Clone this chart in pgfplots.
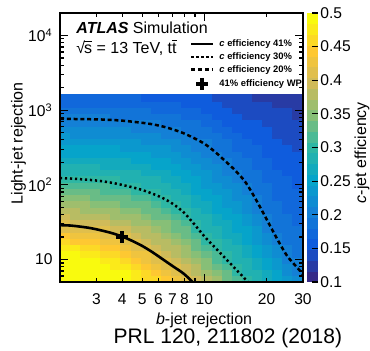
\documentclass[border=0pt]{standalone}
\usepackage{fontspec}
\setmainfont{Liberation Sans}
\usepackage{pgfplots}
\pgfplotsset{compat=1.18}

% ROOT "kBird" palette, sampled into discrete steps
\pgfplotsset{
  colormap={bird}{rgb=(0.2082,0.1664,0.5293) rgb=(0.0592,0.3599,0.8684)
    rgb=(0.0780,0.5041,0.8385) rgb=(0.0232,0.6419,0.7914) rgb=(0.1802,0.7178,0.6425)
    rgb=(0.5301,0.7492,0.4662) rgb=(0.8186,0.7328,0.3499) rgb=(0.9956,0.7862,0.1968)
    rgb=(0.9764,0.9832,0.0539)},
  colormap={birdsteps}{samples of colormap=(25 of bird)},
  cross legend/.style={legend image code/.code={\draw[##1] plot coordinates {(5.5pt,0pt)}; \path (0pt,0pt) (11pt,0pt);}},
}

% c-jet efficiency on a (b-rejection, light-rejection) grid; cell corners, the
% value of a cell sits at its lower-left corner
\pgfplotstableread{
x y c
2 5 0.5
2.24 5 0.5
2.51 5 0.5
2.81 5 0.5
3.14 5 0.5
3.52 5 0.5
3.94 5 0.497
4.41 5 0.481
4.93 5 0.466
5.52 5 0.452
6.18 5 0.439
6.92 5 0.426
7.74 5 0.414
8.67 5 0.397
9.70 5 0.378
10.9 5 0.358
12.2 5 0.337
13.6 5 0.316
15.2 5 0.297
17.1 5 0.285
19.1 5 0.271
21.4 5 0.254
23.9 5 0.234
26.8 5 0.217
30 5 0.217
2 6.06 0.5
2.24 6.06 0.5
2.51 6.06 0.5
2.81 6.06 0.5
3.14 6.06 0.5
3.52 6.06 0.498
3.94 6.06 0.484
4.41 6.06 0.469
4.93 6.06 0.455
5.52 6.06 0.441
6.18 6.06 0.428
6.92 6.06 0.416
7.74 6.06 0.403
8.67 6.06 0.385
9.70 6.06 0.366
10.9 6.06 0.346
12.2 6.06 0.325
13.6 6.06 0.304
15.2 6.06 0.291
17.1 6.06 0.278
19.1 6.06 0.263
21.4 6.06 0.246
23.9 6.06 0.225
26.8 6.06 0.208
30 6.06 0.208
2 7.35 0.5
2.24 7.35 0.5
2.51 7.35 0.5
2.81 7.35 0.5
3.14 7.35 0.495
3.52 7.35 0.483
3.94 7.35 0.471
4.41 7.35 0.456
4.93 7.35 0.443
5.52 7.35 0.430
6.18 7.35 0.418
6.92 7.35 0.406
7.74 7.35 0.392
8.67 7.35 0.373
9.70 7.35 0.354
10.9 7.35 0.333
12.2 7.35 0.313
13.6 7.35 0.296
15.2 7.35 0.284
17.1 7.35 0.271
19.1 7.35 0.256
21.4 7.35 0.237
23.9 7.35 0.216
26.8 7.35 0.199
30 7.35 0.199
2 8.90 0.5
2.24 8.90 0.5
2.51 8.90 0.496
2.81 8.90 0.489
3.14 8.90 0.480
3.52 8.90 0.469
3.94 8.90 0.457
4.41 8.90 0.444
4.93 8.90 0.432
5.52 8.90 0.419
6.18 8.90 0.407
6.92 8.90 0.395
7.74 8.90 0.381
8.67 8.90 0.362
9.70 8.90 0.342
10.9 8.90 0.321
12.2 8.90 0.300
13.6 8.90 0.289
15.2 8.90 0.278
17.1 8.90 0.264
19.1 8.90 0.248
21.4 8.90 0.229
23.9 8.90 0.206
26.8 8.90 0.197
30 8.90 0.197
2 10.8 0.488
2.24 10.8 0.485
2.51 10.8 0.480
2.81 10.8 0.473
3.14 10.8 0.465
3.52 10.8 0.455
3.94 10.8 0.444
4.41 10.8 0.432
4.93 10.8 0.420
5.52 10.8 0.408
6.18 10.8 0.396
6.92 10.8 0.383
7.74 10.8 0.369
8.67 10.8 0.350
9.70 10.8 0.329
10.9 10.8 0.309
12.2 10.8 0.294
13.6 10.8 0.283
15.2 10.8 0.271
17.1 10.8 0.257
19.1 10.8 0.240
21.4 10.8 0.220
23.9 10.8 0.199
26.8 10.8 0.194
30 10.8 0.194
2 13.1 0.471
2.24 13.1 0.468
2.51 13.1 0.463
2.81 13.1 0.457
3.14 13.1 0.450
3.52 13.1 0.440
3.94 13.1 0.430
4.41 13.1 0.419
4.93 13.1 0.409
5.52 13.1 0.397
6.18 13.1 0.385
6.92 13.1 0.372
7.74 13.1 0.358
8.67 13.1 0.338
9.70 13.1 0.317
10.9 13.1 0.298
12.2 13.1 0.287
13.6 13.1 0.276
15.2 13.1 0.265
17.1 13.1 0.250
19.1 13.1 0.233
21.4 13.1 0.212
23.9 13.1 0.196
26.8 13.1 0.191
30 13.1 0.191
2 15.9 0.454
2.24 15.9 0.451
2.51 15.9 0.447
2.81 15.9 0.441
3.14 15.9 0.434
3.52 15.9 0.426
3.94 15.9 0.417
4.41 15.9 0.407
4.93 15.9 0.397
5.52 15.9 0.385
6.18 15.9 0.374
6.92 15.9 0.361
7.74 15.9 0.347
8.67 15.9 0.326
9.70 15.9 0.305
10.9 15.9 0.292
12.2 15.9 0.281
13.6 15.9 0.270
15.2 15.9 0.259
17.1 15.9 0.243
19.1 15.9 0.225
21.4 15.9 0.204
23.9 15.9 0.193
26.8 15.9 0.188
30 15.9 0.188
2 19.2 0.437
2.24 19.2 0.434
2.51 19.2 0.430
2.81 19.2 0.425
3.14 19.2 0.419
3.52 19.2 0.412
3.94 19.2 0.404
4.41 19.2 0.394
4.93 19.2 0.385
5.52 19.2 0.373
6.18 19.2 0.363
6.92 19.2 0.350
7.74 19.2 0.336
8.67 19.2 0.315
9.70 19.2 0.296
10.9 19.2 0.285
12.2 19.2 0.274
13.6 19.2 0.264
15.2 19.2 0.252
17.1 19.2 0.236
19.1 19.2 0.217
21.4 19.2 0.198
23.9 19.2 0.190
26.8 19.2 0.185
30 19.2 0.185
2 23.3 0.419
2.24 23.3 0.417
2.51 23.3 0.414
2.81 23.3 0.409
3.14 23.3 0.404
3.52 23.3 0.398
3.94 23.3 0.391
4.41 23.3 0.382
4.93 23.3 0.373
5.52 23.3 0.362
6.18 23.3 0.351
6.92 23.3 0.339
7.74 23.3 0.324
8.67 23.3 0.303
9.70 23.3 0.289
10.9 23.3 0.279
12.2 23.3 0.268
13.6 23.3 0.257
15.2 23.3 0.246
17.1 23.3 0.229
19.1 23.3 0.210
21.4 23.3 0.195
23.9 23.3 0.187
26.8 23.3 0.182
30 23.3 0.182
2 28.2 0.404
2.24 28.2 0.402
2.51 28.2 0.399
2.81 28.2 0.395
3.14 28.2 0.390
3.52 28.2 0.385
3.94 28.2 0.378
4.41 28.2 0.369
4.93 28.2 0.361
5.52 28.2 0.350
6.18 28.2 0.340
6.92 28.2 0.328
7.74 28.2 0.313
8.67 28.2 0.295
9.70 28.2 0.283
10.9 28.2 0.272
12.2 28.2 0.262
13.6 28.2 0.251
15.2 28.2 0.239
17.1 28.2 0.222
19.1 28.2 0.202
21.4 28.2 0.192
23.9 28.2 0.184
26.8 28.2 0.179
30 28.2 0.179
2 34.2 0.389
2.24 34.2 0.387
2.51 34.2 0.385
2.81 34.2 0.381
3.14 34.2 0.377
3.52 34.2 0.371
3.94 34.2 0.364
4.41 34.2 0.357
4.93 34.2 0.348
5.52 34.2 0.339
6.18 34.2 0.329
6.92 34.2 0.316
7.74 34.2 0.302
8.67 34.2 0.288
9.70 34.2 0.276
10.9 34.2 0.265
12.2 34.2 0.255
13.6 34.2 0.244
15.2 34.2 0.233
17.1 34.2 0.215
19.1 34.2 0.197
21.4 34.2 0.189
23.9 34.2 0.181
26.8 34.2 0.177
30 34.2 0.177
2 41.5 0.374
2.24 41.5 0.373
2.51 41.5 0.370
2.81 41.5 0.367
3.14 41.5 0.363
3.52 41.5 0.358
3.94 41.5 0.351
4.41 41.5 0.344
4.93 41.5 0.336
5.52 41.5 0.327
6.18 41.5 0.318
6.92 41.5 0.305
7.74 41.5 0.293
8.67 41.5 0.281
9.70 41.5 0.269
10.9 41.5 0.259
12.2 41.5 0.249
13.6 41.5 0.238
15.2 41.5 0.226
17.1 41.5 0.208
19.1 41.5 0.194
21.4 41.5 0.185
23.9 41.5 0.179
26.8 41.5 0.174
30 41.5 0.174
2 50.3 0.360
2.24 50.3 0.358
2.51 50.3 0.356
2.81 50.3 0.353
3.14 50.3 0.349
3.52 50.3 0.344
3.94 50.3 0.338
4.41 50.3 0.331
4.93 50.3 0.324
5.52 50.3 0.316
6.18 50.3 0.307
6.92 50.3 0.296
7.74 50.3 0.286
8.67 50.3 0.273
9.70 50.3 0.263
10.9 50.3 0.252
12.2 50.3 0.242
13.6 50.3 0.231
15.2 50.3 0.220
17.1 50.3 0.201
19.1 50.3 0.190
21.4 50.3 0.182
23.9 50.3 0.176
26.8 50.3 0.171
30 50.3 0.171
2 61.0 0.345
2.24 61.0 0.344
2.51 61.0 0.342
2.81 61.0 0.339
3.14 61.0 0.335
3.52 61.0 0.331
3.94 61.0 0.325
4.41 61.0 0.319
4.93 61.0 0.312
5.52 61.0 0.304
6.18 61.0 0.296
6.92 61.0 0.287
7.74 61.0 0.278
8.67 61.0 0.266
9.70 61.0 0.256
10.9 61.0 0.246
12.2 61.0 0.236
13.6 61.0 0.225
15.2 61.0 0.213
17.1 61.0 0.196
19.1 61.0 0.187
21.4 61.0 0.179
23.9 61.0 0.173
26.8 61.0 0.168
30 61.0 0.168
2 73.9 0.331
2.24 73.9 0.329
2.51 73.9 0.327
2.81 73.9 0.325
3.14 73.9 0.321
3.52 73.9 0.317
3.94 73.9 0.312
4.41 73.9 0.306
4.93 73.9 0.300
5.52 73.9 0.294
6.18 73.9 0.288
6.92 73.9 0.279
7.74 73.9 0.270
8.67 73.9 0.259
9.70 73.9 0.249
10.9 73.9 0.239
12.2 73.9 0.229
13.6 73.9 0.219
15.2 73.9 0.207
17.1 73.9 0.192
19.1 73.9 0.183
21.4 73.9 0.176
23.9 73.9 0.170
26.8 73.9 0.165
30 73.9 0.165
2 89.6 0.316
2.24 89.6 0.315
2.51 89.6 0.313
2.81 89.6 0.311
3.14 89.6 0.308
3.52 89.6 0.304
3.94 89.6 0.299
4.41 89.6 0.295
4.93 89.6 0.291
5.52 89.6 0.286
6.18 89.6 0.279
6.92 89.6 0.271
7.74 89.6 0.263
8.67 89.6 0.252
9.70 89.6 0.243
10.9 89.6 0.233
12.2 89.6 0.223
13.6 89.6 0.212
15.2 89.6 0.200
17.1 89.6 0.188
19.1 89.6 0.180
21.4 89.6 0.173
23.9 89.6 0.167
26.8 89.6 0.162
30 89.6 0.162
2 109 0.302
2.24 109 0.300
2.51 109 0.299
2.81 109 0.298
3.14 109 0.295
3.52 109 0.293
3.94 109 0.290
4.41 109 0.286
4.93 109 0.282
5.52 109 0.277
6.18 109 0.271
6.92 109 0.263
7.74 109 0.255
8.67 109 0.245
9.70 109 0.236
10.9 109 0.226
12.2 109 0.217
13.6 109 0.206
15.2 109 0.195
17.1 109 0.184
19.1 109 0.176
21.4 109 0.169
23.9 109 0.164
26.8 109 0.159
30 109 0.159
2 132 0.291
2.24 132 0.290
2.51 132 0.289
2.81 132 0.287
3.14 132 0.286
3.52 132 0.283
3.94 132 0.280
4.41 132 0.277
4.93 132 0.273
5.52 132 0.268
6.18 132 0.262
6.92 132 0.255
7.74 132 0.247
8.67 132 0.238
9.70 132 0.229
10.9 132 0.220
12.2 132 0.210
13.6 132 0.199
15.2 132 0.190
17.1 132 0.180
19.1 132 0.173
21.4 132 0.166
23.9 132 0.161
26.8 132 0.156
30 132 0.156
2 159 0.280
2.24 159 0.279
2.51 159 0.278
2.81 159 0.277
3.14 159 0.275
3.52 159 0.273
3.94 159 0.270
4.41 159 0.267
4.93 159 0.263
5.52 159 0.259
6.18 159 0.254
6.92 159 0.247
7.74 159 0.239
8.67 159 0.231
9.70 159 0.222
10.9 159 0.213
12.2 159 0.204
13.6 159 0.194
15.2 159 0.186
17.1 159 0.176
19.1 159 0.169
21.4 159 0.163
23.9 159 0.158
26.8 159 0.154
30 159 0.154
2 193 0.270
2.24 193 0.269
2.51 193 0.268
2.81 193 0.267
3.14 193 0.265
3.52 193 0.263
3.94 193 0.261
4.41 193 0.258
4.93 193 0.254
5.52 193 0.250
6.18 193 0.245
6.92 193 0.239
7.74 193 0.232
8.67 193 0.224
9.70 193 0.216
10.9 193 0.207
12.2 193 0.198
13.6 193 0.189
15.2 193 0.181
17.1 193 0.172
19.1 193 0.165
21.4 193 0.160
23.9 193 0.155
26.8 193 0.151
30 193 0.151
2 234 0.259
2.24 234 0.259
2.51 234 0.258
2.81 234 0.257
3.14 234 0.255
3.52 234 0.253
3.94 234 0.251
4.41 234 0.248
4.93 234 0.245
5.52 234 0.241
6.18 234 0.236
6.92 234 0.230
7.74 234 0.224
8.67 234 0.216
9.70 234 0.209
10.9 234 0.200
12.2 234 0.192
13.6 234 0.184
15.2 234 0.176
17.1 234 0.168
19.1 234 0.162
21.4 234 0.157
23.9 234 0.152
26.8 234 0.148
30 234 0.148
2 284 0.249
2.24 284 0.248
2.51 284 0.248
2.81 284 0.247
3.14 284 0.245
3.52 284 0.244
3.94 284 0.242
4.41 284 0.239
4.93 284 0.236
5.52 284 0.232
6.18 284 0.228
6.92 284 0.222
7.74 284 0.216
8.67 284 0.209
9.70 284 0.202
10.9 284 0.194
12.2 284 0.186
13.6 284 0.178
15.2 284 0.171
17.1 284 0.164
19.1 284 0.158
21.4 284 0.153
23.9 284 0.149
26.8 284 0.145
30 284 0.145
2 344 0.238
2.24 344 0.238
2.51 344 0.237
2.81 344 0.236
3.14 344 0.235
3.52 344 0.234
3.94 344 0.232
4.41 344 0.229
4.93 344 0.227
5.52 344 0.223
6.18 344 0.219
6.92 344 0.214
7.74 344 0.209
8.67 344 0.202
9.70 344 0.196
10.9 344 0.188
12.2 344 0.180
13.6 344 0.173
15.2 344 0.167
17.1 344 0.160
19.1 344 0.155
21.4 344 0.150
23.9 344 0.146
26.8 344 0.142
30 344 0.142
2 417 0.228
2.24 417 0.227
2.51 417 0.227
2.81 417 0.226
3.14 417 0.225
3.52 417 0.224
3.94 417 0.222
4.41 417 0.220
4.93 417 0.218
5.52 417 0.215
6.18 417 0.211
6.92 417 0.206
7.74 417 0.201
8.67 417 0.195
9.70 417 0.189
10.9 417 0.181
12.2 417 0.175
13.6 417 0.168
15.2 417 0.162
17.1 417 0.156
19.1 417 0.151
21.4 417 0.147
23.9 417 0.143
26.8 417 0.139
30 417 0.139
2 506 0.218
2.24 506 0.217
2.51 506 0.217
2.81 506 0.216
3.14 506 0.215
3.52 506 0.214
3.94 506 0.213
4.41 506 0.211
4.93 506 0.208
5.52 506 0.206
6.18 506 0.202
6.92 506 0.198
7.74 506 0.193
8.67 506 0.188
9.70 506 0.182
10.9 506 0.175
12.2 506 0.169
13.6 506 0.163
15.2 506 0.157
17.1 506 0.152
19.1 506 0.148
21.4 506 0.144
23.9 506 0.140
26.8 506 0.136
30 506 0.136
2 613 0.207
2.24 613 0.207
2.51 613 0.206
2.81 613 0.206
3.14 613 0.205
3.52 613 0.204
3.94 613 0.203
4.41 613 0.201
4.93 613 0.199
5.52 613 0.197
6.18 613 0.194
6.92 613 0.190
7.74 613 0.186
8.67 613 0.180
9.70 613 0.175
10.9 613 0.169
12.2 613 0.163
13.6 613 0.157
15.2 613 0.152
17.1 613 0.148
19.1 613 0.144
21.4 613 0.141
23.9 613 0.137
26.8 613 0.133
30 613 0.133
2 743 0.197
2.24 743 0.197
2.51 743 0.196
2.81 743 0.196
3.14 743 0.196
3.52 743 0.195
3.94 743 0.194
4.41 743 0.192
4.93 743 0.190
5.52 743 0.188
6.18 743 0.185
6.92 743 0.181
7.74 743 0.178
8.67 743 0.173
9.70 743 0.168
10.9 743 0.162
12.2 743 0.157
13.6 743 0.152
15.2 743 0.147
17.1 743 0.143
19.1 743 0.140
21.4 743 0.137
23.9 743 0.134
26.8 743 0.131
30 743 0.131
2 901 0.188
2.24 901 0.188
2.51 901 0.187
2.81 901 0.187
3.14 901 0.187
3.52 901 0.186
3.94 901 0.185
4.41 901 0.183
4.93 901 0.181
5.52 901 0.179
6.18 901 0.177
6.92 901 0.173
7.74 901 0.170
8.67 901 0.166
9.70 901 0.162
10.9 901 0.156
12.2 901 0.151
13.6 901 0.147
15.2 901 0.143
17.1 901 0.139
19.1 901 0.137
21.4 901 0.134
23.9 901 0.132
26.8 901 0.128
30 901 0.128
2 1092 0.179
2.24 1092 0.179
2.51 1092 0.178
2.81 1092 0.178
3.14 1092 0.177
3.52 1092 0.177
3.94 1092 0.176
4.41 1092 0.174
4.93 1092 0.172
5.52 1092 0.170
6.18 1092 0.168
6.92 1092 0.165
7.74 1092 0.162
8.67 1092 0.158
9.70 1092 0.155
10.9 1092 0.150
12.2 1092 0.146
13.6 1092 0.141
15.2 1092 0.138
17.1 1092 0.135
19.1 1092 0.133
21.4 1092 0.131
23.9 1092 0.129
26.8 1092 0.125
30 1092 0.125
2 1323 0.170
2.24 1323 0.170
2.51 1323 0.169
2.81 1323 0.169
3.14 1323 0.168
3.52 1323 0.168
3.94 1323 0.167
4.41 1323 0.165
4.93 1323 0.163
5.52 1323 0.161
6.18 1323 0.159
6.92 1323 0.157
7.74 1323 0.155
8.67 1323 0.151
9.70 1323 0.148
10.9 1323 0.144
12.2 1323 0.140
13.6 1323 0.136
15.2 1323 0.133
17.1 1323 0.131
19.1 1323 0.130
21.4 1323 0.128
23.9 1323 0.126
26.8 1323 0.122
30 1323 0.122
2 1604 0.170
2.24 1604 0.170
2.51 1604 0.169
2.81 1604 0.169
3.14 1604 0.168
3.52 1604 0.168
3.94 1604 0.167
4.41 1604 0.165
4.93 1604 0.163
5.52 1604 0.161
6.18 1604 0.159
6.92 1604 0.157
7.74 1604 0.155
8.67 1604 0.151
9.70 1604 0.148
10.9 1604 0.144
12.2 1604 0.140
13.6 1604 0.136
15.2 1604 0.133
17.1 1604 0.131
19.1 1604 0.130
21.4 1604 0.128
23.9 1604 0.126
26.8 1604 0.122
30 1604 0.122
}\effmap

\begin{document}
\begin{tikzpicture}
\path[use as bounding box] (-30pt,-34.5pt) rectangle (155pt,141pt);
\begin{axis}[
  at={(0pt,0pt)}, anchor=south west,
  scale only axis, width=121.5pt, height=134.5pt,
  xmode=log, ymode=log,
  xmin=2, xmax=30, ymin=5, ymax=20000,
  axis on top, clip mode=individual,
  colormap name=birdsteps, colormap access=piecewise constant,
  point meta min=0.1, point meta max=0.5,
  tick align=inside,
  axis line style={line width=0.6pt},
  every tick/.append style={line width=0.6pt, black},
  major tick length=4pt, minor tick length=2pt,
  xtick={10}, xticklabels={10},
  extra x ticks={3,4,5,6,7,8,20,30},
  extra x tick labels={3,4,5,6,7,8,20,30},
  extra x tick style={grid=none, major tick length=2pt},
  minor xtick={9},
  ytick={10,100,1000,10000},
  yticklabels={10,10\textsuperscript{2},10\textsuperscript{3},10\textsuperscript{4}},
  minor ytick={5,6,7,8,9,20,30,40,50,60,70,80,90,200,300,400,500,600,700,800,900,2000,3000,4000,5000,6000,7000,8000,9000},
  ticklabel style={font=\fontsize{7.8}{9}\selectfont},
  xticklabel style={inner sep=0pt, anchor=north, yshift=-5.5pt},
  yticklabel style={inner sep=0pt, anchor=east, xshift=-3.5pt},
  xlabel={\textit{b}-jet rejection},
  xlabel style={at={(axis description cs:0.593,-0.141)}, anchor=center, font=\fontsize{8}{9.6}\selectfont},
  ylabel={Light-jet rejection},
  ylabel style={at={(axis description cs:-0.171,0.515)}, anchor=center, font=\fontsize{8}{9.6}\selectfont},
  colorbar,
  colorbar style={
    at={(parent axis.north east)}, anchor=north west, xshift=-6.54pt,
    width=5.5pt,
    colormap access=piecewise constant,
    axis line style={draw=none},
    tick align=inside, ytick pos=right, major tick length=3pt,
    ytick style={line width=0.6pt, black},
    ytick={0.1,0.15,0.2,0.25,0.3,0.35,0.4,0.45,0.5},
    yticklabels={0.1,0.15,0.2,0.25,0.3,0.35,0.4,0.45,0.5},
    yticklabel style={font=\fontsize{7.8}{9}\selectfont, inner sep=0pt, anchor=west, xshift=1pt},
    ylabel={\textit{c}-jet efficiency},
    ylabel style={at={(axis description cs:5.0,0.481)}, anchor=center, font=\fontsize{8}{9.6}\selectfont},
  },
  legend style={at={(rel axis cs:0.531,0.903)}, anchor=north west, draw=none, fill=none,
    inner sep=0pt, row sep=1.8pt, /tikz/column sep=2pt,
    font=\fontsize{4.7}{5.6}\selectfont\bfseries,
    nodes={inner sep=0pt, text height=3.6pt, text depth=1pt}},
  legend cell align=left,
  legend image code/.code={\draw[#1] (0pt,0pt) -- (11pt,0pt);},
]
\addplot[surf, shader=flat corner, mesh/cols=25, point meta=explicit, forget plot]
  table[x=x, y=y, meta=c] {\effmap};

% iso-efficiency contours
\addplot[black, line width=1.3pt, smooth] coordinates {
  (2,28.84) (2.239,28.51) (2.512,27.54) (2.818,26.30) (3.162,24.55) (3.548,22.65)
  (3.981,20.42) (4.467,17.78) (5.012,15.14) (5.623,12.45) (6.310,10.00)
  (7.079,8.035) (7.943,6.457) (8.913,4.786)};
\addlegendentry{\textit{c} efficiency 41\%}
\addplot[black, line width=1.25pt, dash pattern=on 1.1pt off 1.4pt, smooth] coordinates {
  (2,123.0) (2.239,121.6) (2.512,118.9) (2.818,116.1) (3.162,112.2) (3.548,106.7)
  (3.981,100) (4.467,92.9) (5.012,85.1) (5.623,75.9) (6.310,66.1) (7.079,55.0)
  (7.943,42.7) (8.913,29.9) (10,20.4) (11.22,14.6) (12.59,10.47) (14.13,7.50)
  (15.85,5.37) (17.78,3.85)};
\addlegendentry{\textit{c} efficiency 30\%}
\addplot[black, line width=1.25pt, dash pattern=on 2pt off 1.4pt, smooth] coordinates {
  (2,767.4) (2.512,758.6) (3.162,749.9) (3.981,724.4) (5.012,676.1) (5.623,645.7)
  (6.310,602.6) (7.079,549.5) (7.943,489.8) (8.913,421.7) (10,354.8) (11.22,278.6)
  (12.59,208.9) (14.13,154.9) (15.85,107.2) (17.78,63.1) (19.95,35.1) (22.39,19.3)
  (25.12,11.2) (28.18,7.76) (30,6.31)};
\addlegendentry{\textit{c} efficiency 20\%}
\addplot[only marks, black, mark=+, mark size=3pt, line width=2pt, cross legend]
  coordinates {(4,20)};
\addlegendentry{41\% efficiency WP}

\node[anchor=base west, inner sep=0pt, font=\fontsize{8}{9.6}\selectfont] at (rel axis cs:0.0658,0.924)
  {\textbf{\textit{ATLAS}} Simulation};
\node[anchor=base west, inner sep=0pt, font=\fontsize{8}{9.6}\selectfont] at (rel axis cs:0.0658,0.851)
  {√\kern-0.06em$\overline{\mbox{s}}$ = 13 TeV, t$\overline{\mbox{t}}$};
\node[inner sep=0pt, font=\fontsize{10.5}{12.6}\selectfont] at (rel axis cs:0.691,-0.208)
  {PRL 120, 211802 (2018)};
\end{axis}
\end{tikzpicture}
\end{document}
